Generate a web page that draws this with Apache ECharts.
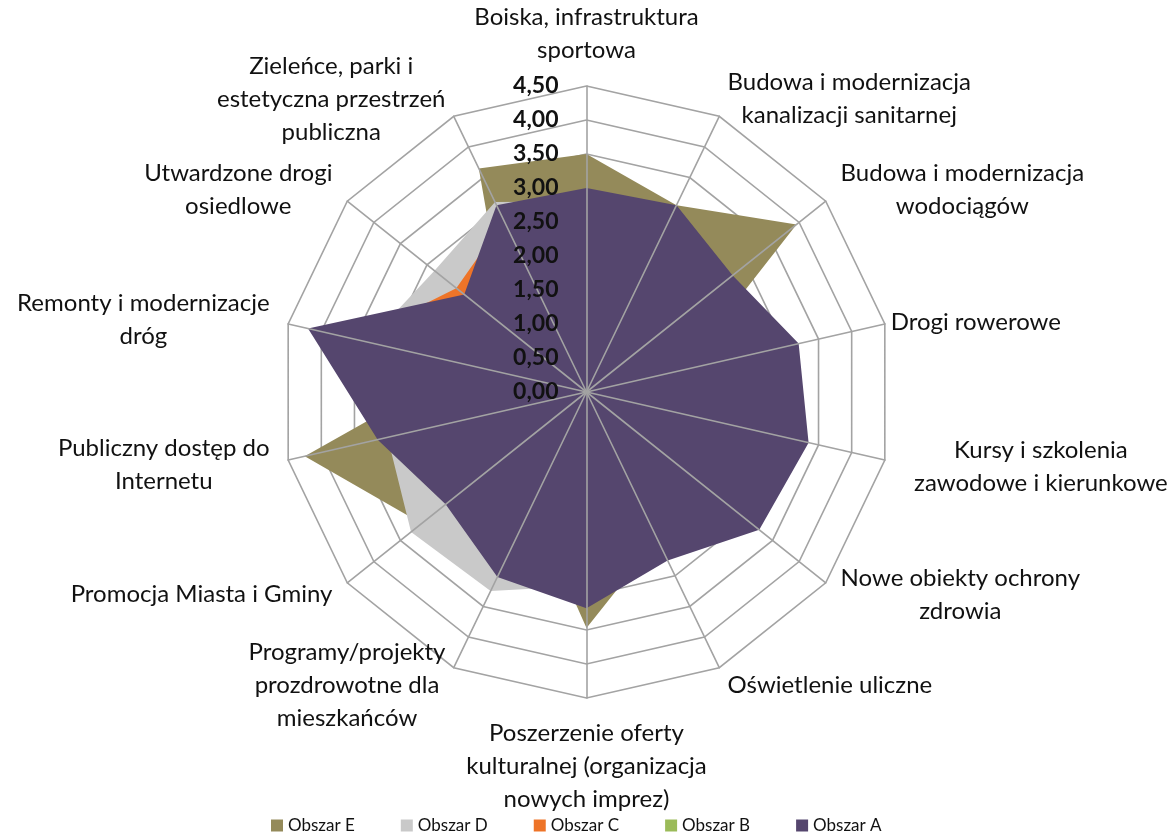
<!DOCTYPE html>
<html>
<head>
<meta charset="utf-8">
<script src="https://cdn.jsdelivr.net/npm/echarts@6/dist/echarts.min.js"></script>
<style>
  html, body { margin: 0; padding: 0; background: #fff; }
  #chart { width: 1169px; height: 834px; }
</style>
</head>
<body>
<div id="chart"></div>
<script>
// categories, clockwise from the top (as in the source chart)
const categories = [
  'Boiska, infrastruktura\nsportowa',
  'Budowa i modernizacja\nkanalizacji sanitarnej',
  'Budowa i modernizacja\nwodociągów',
  'Drogi rowerowe',
  'Kursy i szkolenia\nzawodowe i kierunkowe',
  'Nowe obiekty ochrony\nzdrowia',
  'Oświetlenie uliczne',
  'Poszerzenie oferty\nkulturalnej (organizacja\nnowych imprez)',
  'Programy/projekty\nprozdrowotne dla\nmieszkańców',
  'Promocja Miasta i Gminy',
  'Publiczny dostęp do\nInternetu',
  'Remonty i modernizacje\ndróg',
  'Utwardzone drogi\nosiedlowe',
  'Zieleńce, parki i\nestetyczna przestrzeń\npubliczna'
];

const obszarE = [3.50, 3.05, 3.95, 1.45, 2.00, 2.20, 2.40, 3.47, 1.85, 3.10, 4.25, 1.80, 1.50, 3.65];
const obszarD = [2.80, 2.70, 2.50, 2.90, 3.00, 2.90, 2.50, 2.85, 3.25, 3.30, 3.00, 3.30, 2.86, 3.10];
const obszarC = [2.90, 2.90, 2.60, 3.00, 3.10, 3.00, 2.60, 3.00, 2.90, 2.50, 3.00, 3.50, 2.45, 2.80];
const obszarB = [2.60, 2.70, 2.40, 2.80, 2.90, 2.80, 2.50, 2.90, 2.70, 2.40, 2.80, 3.60, 2.10, 2.70];
const obszarA = [3.00, 3.05, 2.75, 3.20, 3.35, 3.25, 2.75, 3.18, 3.02, 2.65, 3.15, 4.20, 2.30, 3.05];

const seriesNames = ['Obszar E', 'Obszar D', 'Obszar C', 'Obszar B', 'Obszar A'];
const seriesValues = [obszarE, obszarD, obszarC, obszarB, obszarA];
const seriesColors = ['#948A5A', '#C9C9C9', '#EE7428', '#9BBB59', '#55466E'];

const axisMin = 0;
const axisMax = 4.5;
const splitCount = 9;

const FONT = 'Lato';
const gridColor = '#A3A3A3';

// echarts lays indicators out counter-clockwise, so flip the order after the first one
const n = categories.length;
const order = categories.map((_, i) => (n - i) % n);
const reorder = arr => order.map(i => arr[i]);

// a few labels sit further from / closer to their vertex
const nameGaps = {3: 6, 4: 30};

function makeIndicators(withLabel) {
  return order.map((i, k) => {
    const ind = { name: categories[i], min: axisMin, max: axisMax };
    if (nameGaps[i] != null) ind.nameGap = nameGaps[i];
    if (withLabel && k === 0) ind.axisLabel = { show: true };
    return ind;
  });
}

const chart = echarts.init(document.getElementById('chart'));

chart.setOption({
  animation: false,
  backgroundColor: '#fff',
  legend: {
    data: seriesNames,
    left: 266,
    top: 812,
    icon: 'rect',
    itemWidth: 12,
    itemHeight: 12,
    itemGap: 46,
    textStyle: { fontFamily: FONT, fontSize: 17, color: '#111' }
  },
  radar: [
    {
      // grid + names, under the areas
      center: [586.5, 392],
      radius: 306,
      startAngle: 90,
      shape: 'polygon',
      splitNumber: splitCount,
      indicator: makeIndicators(false),
      nameGap: 19,
      axisName: {
        color: '#111',
        fontFamily: FONT,
        fontSize: 24,
        lineHeight: 33,
        formatter: v => v.split('\n').map(s => '{c|' + s + '}').join('\n'),
        rich: {
          c: { align: 'center', fontFamily: FONT, fontSize: 24, lineHeight: 33, color: '#111' }
        }
      },
      splitLine: { lineStyle: { color: gridColor, width: 1.6 } },
      splitArea: { show: false },
      axisLine: { show: false },
      axisLabel: { show: false },
      z: 1
    },
    {
      // spokes + tick labels, over the areas
      center: [586.5, 392],
      radius: 306,
      startAngle: 90,
      shape: 'polygon',
      splitNumber: splitCount,
      indicator: makeIndicators(true),
      axisName: { show: false },
      splitLine: { show: false },
      splitArea: { show: false },
      axisLine: { show: true, lineStyle: { color: gridColor, width: 1.6 } },
      axisLabel: {
        show: false,
        margin: 28,
        fontFamily: FONT,
        fontWeight: 'bold',
        fontSize: 23,
        color: '#111',
        formatter: v => Number(v).toFixed(2).replace('.', ',')
      },
      z: 3
    }
  ],
  series: seriesNames.map((name, s) => ({
    name: name,
    type: 'radar',
    radarIndex: 0,
    z: 2,
    symbol: 'none',
    itemStyle: { color: seriesColors[s] },
    lineStyle: { width: 0 },
    areaStyle: { color: seriesColors[s], opacity: 1 },
    data: [{ name: name, value: reorder(seriesValues[s]) }]
  }))
});
</script>
</body>
</html>
